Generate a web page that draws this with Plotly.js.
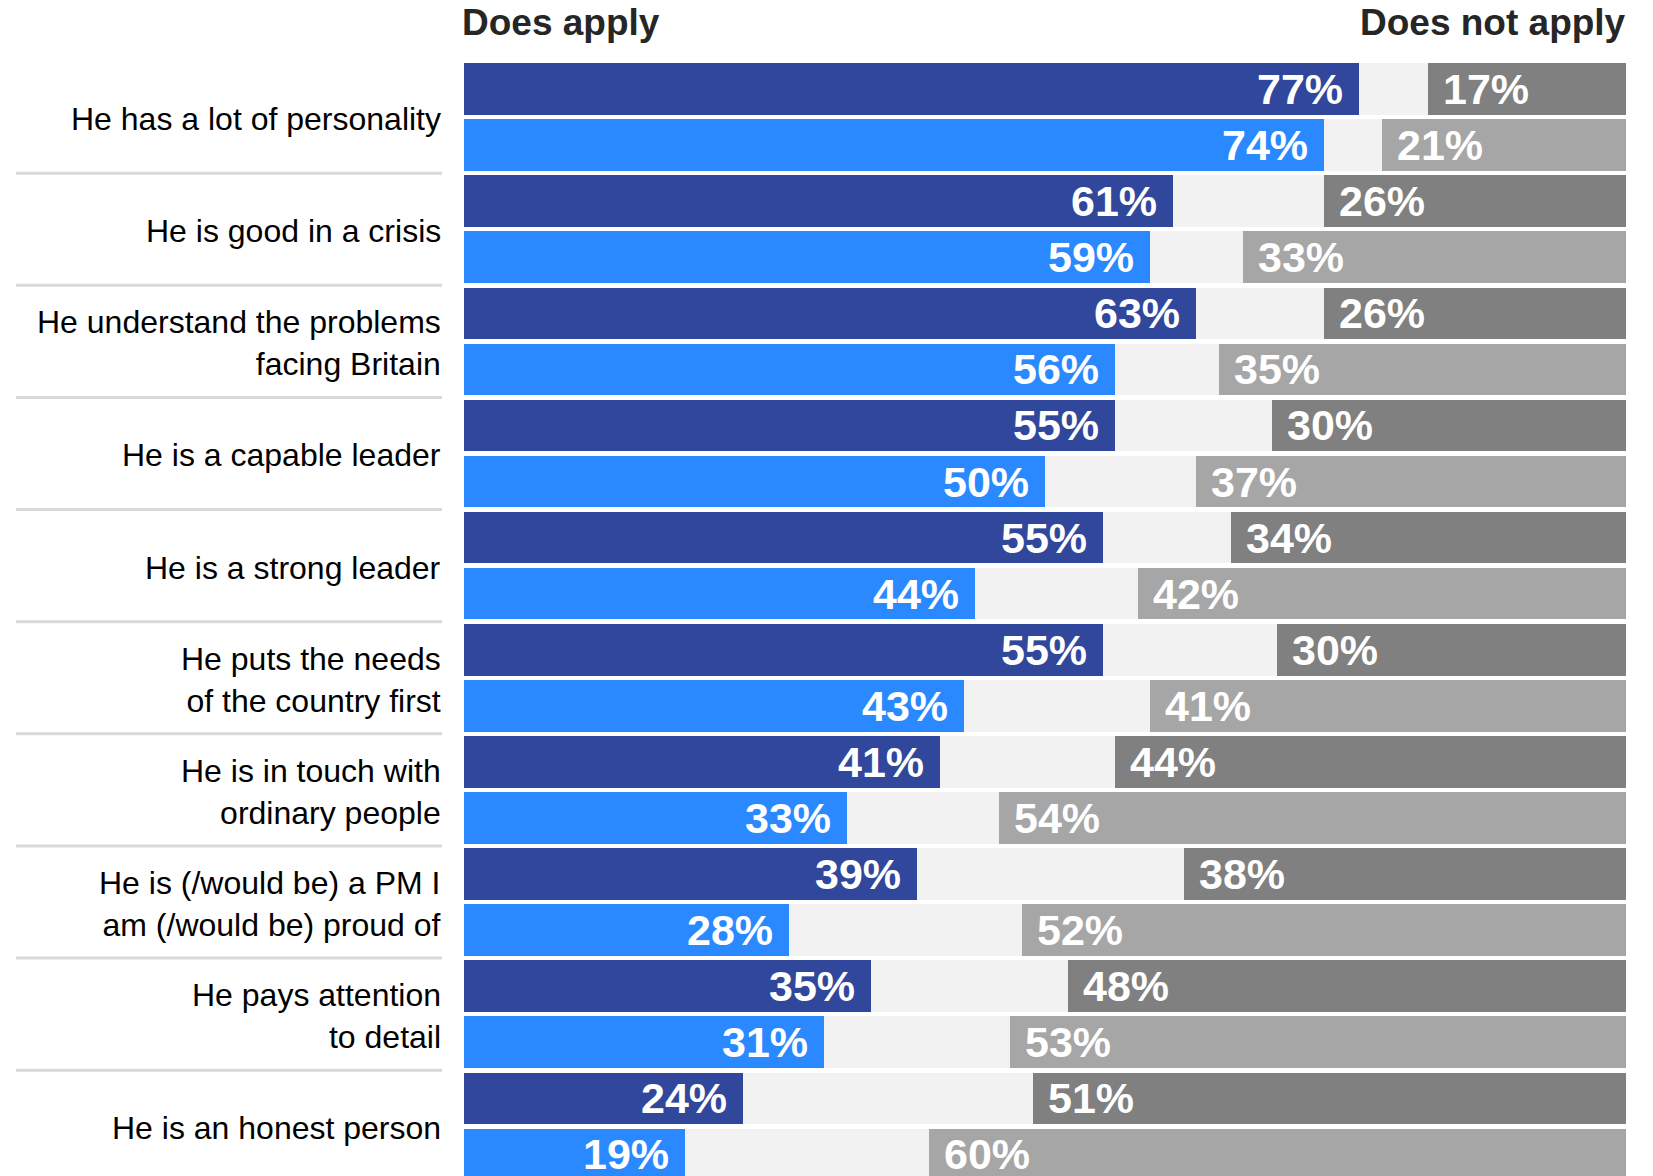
<!DOCTYPE html>
<html>
<head>
<meta charset="utf-8">
<script src="https://cdn.plot.ly/plotly-3.0.1.min.js"></script>
<style>
  html, body { margin: 0; padding: 0; background: #ffffff; }
  #chart { width: 1653px; height: 1176px; }
</style>
</head>
<body>
<div id="chart"></div>
<script>
// ---- Data ----
const categories = [
  "He has a lot of personality",
  "He is good in a crisis",
  "He understand the problems<br>facing Britain",
  "He is a capable leader",
  "He is a strong leader",
  "He puts the needs<br>of the country first",
  "He is in touch with<br>ordinary people",
  "He is (/would be) a PM I<br>am (/would be) proud of",
  "He pays attention<br>to detail",
  "He is an honest person"
];

// "Does apply" – first (dark) and second (light) series
const applyDark  = [77, 61, 63, 56, 55, 55, 41, 39, 35, 24];
const applyLight = [74, 59, 56, 50, 44, 43, 33, 28, 31, 19];
// "Does not apply"
const notDark    = [17, 26, 26, 30.5, 34, 30, 44, 38, 48, 51];
const notLight   = [21, 33, 35, 37, 42, 41, 54, 52, 53, 60];

// Printed labels
const applyDarkText  = ["77%", "61%", "63%", "55%", "55%", "55%", "41%", "39%", "35%", "24%"];
const applyLightText = ["74%", "59%", "56%", "50%", "44%", "43%", "33%", "28%", "31%", "19%"];
const notDarkText    = ["17%", "26%", "26%", "30%", "34%", "30%", "44%", "38%", "48%", "51%"];
const notLightText   = ["21%", "33%", "35%", "37%", "42%", "41%", "54%", "52%", "53%", "60%"];

const headerLeft = "Does apply";
const headerRight = "Does not apply";

// ---- Styling ----
const FONT = "Liberation Sans, Arial, Helvetica, sans-serif";
const C_DARK = "#30479b";
const C_LIGHT = "#2b89ff";
const C_NOT_DARK = "#808080";
const C_NOT_LIGHT = "#a6a6a6";
const C_NEUTRAL = "#f2f2f2";
const C_SEP = "#d9d9d9";

// row positions: dark row then light row for every category
const yDark = categories.map((_, i) => 2 * i);
const yLight = categories.map((_, i) => 2 * i + 1);
const neutralDark = categories.map((_, i) => 100 - applyDark[i] - notDark[i]);
const neutralLight = categories.map((_, i) => 100 - applyLight[i] - notLight[i]);

function barTrace(x, y, color) {
  return {
    type: "bar", orientation: "h", x: x, y: y,
    marker: { color: color, line: { width: 0 } },
    hoverinfo: "skip", showlegend: false
  };
}

const traces = [
  barTrace(applyDark, yDark, C_DARK),
  barTrace(applyLight, yLight, C_LIGHT),
  barTrace(neutralDark, yDark, C_NEUTRAL),
  barTrace(neutralLight, yLight, C_NEUTRAL),
  barTrace(notDark, yDark, C_NOT_DARK),
  barTrace(notLight, yLight, C_NOT_LIGHT)
];

const annotations = [];
const valFont = { family: FONT, size: 43, color: "#ffffff", weight: 700 };

function applyLabels(vals, texts, ys) {
  vals.forEach((v, i) => {
    annotations.push({
      xref: "x", yref: "y", x: v, y: ys[i], text: texts[i],
      xanchor: "right", yanchor: "middle", xshift: -14, showarrow: false, font: valFont
    });
  });
}
function notLabels(vals, texts, ys) {
  vals.forEach((v, i) => {
    annotations.push({
      xref: "x", yref: "y", x: 100 - v, y: ys[i], text: texts[i],
      xanchor: "left", yanchor: "middle", xshift: 13, showarrow: false, font: valFont
    });
  });
}
applyLabels(applyDark, applyDarkText, yDark);
applyLabels(applyLight, applyLightText, yLight);
notLabels(notDark, notDarkText, yDark);
notLabels(notLight, notLightText, yLight);

// category labels
categories.forEach((c, i) => {
  annotations.push({
    xref: "paper", yref: "y", x: 0, y: 2 * i + 0.5, text: c,
    xanchor: "right", yanchor: "middle", align: "right", xshift: -21, yshift: -2,
    showarrow: false, font: { family: FONT, size: 32, color: "#000000" }
  });
});

// headers
annotations.push({
  xref: "paper", yref: "paper", x: 0, y: 1, text: headerLeft,
  xanchor: "left", yanchor: "middle", xshift: -4, yshift: 39, showarrow: false,
  font: { family: FONT, size: 37, color: "#262626", weight: 700 }
});
annotations.push({
  xref: "paper", yref: "paper", x: 1, y: 1, text: headerRight,
  xanchor: "right", yanchor: "middle", xshift: 2, yshift: 39, showarrow: false,
  font: { family: FONT, size: 37, color: "#262626", weight: 700 }
});

// separators between category groups
const shapes = categories.slice(0, -1).map((_, i) => ({
  type: "line", xref: "paper", yref: "y",
  x0: -0.3855, x1: -0.0189, y0: 2 * i + 1.5, y1: 2 * i + 1.5,
  line: { color: C_SEP, width: 3 }
}));

const layout = {
  width: 1653, height: 1176,
  margin: { l: 464, r: 27, t: 61, b: 0, pad: 0 },
  paper_bgcolor: "#ffffff", plot_bgcolor: "#ffffff",
  barmode: "stack", bargap: 0.08,
  showlegend: false,
  xaxis: { range: [0, 100], visible: false, fixedrange: true },
  yaxis: { range: [19.386, -0.5], visible: false, fixedrange: true },
  annotations: annotations,
  shapes: shapes,
  font: { family: FONT }
};

Plotly.newPlot("chart", traces, layout, { displayModeBar: false, staticPlot: true });
</script>
</body>
</html>
